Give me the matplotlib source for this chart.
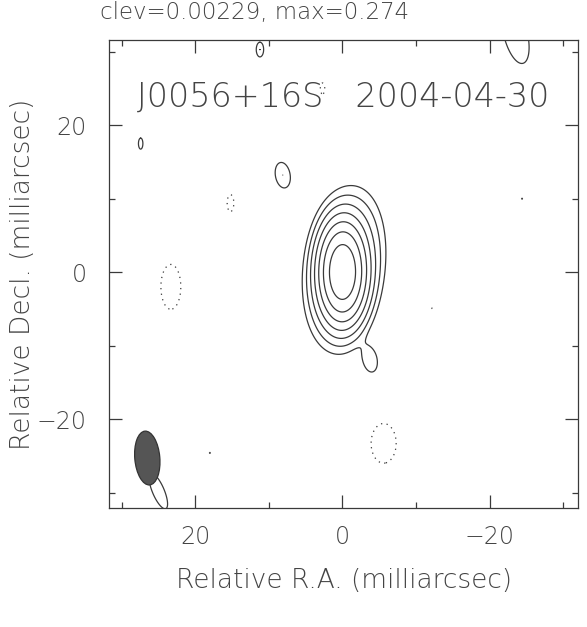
import numpy as np
import matplotlib
matplotlib.use("Agg")
import matplotlib.pyplot as plt
from matplotlib.patches import Ellipse

# ---- data ----
source = "J0056+16S"
epoch = "2004-04-30"
clev = 0.00229
vmax = 0.274
level_factors = [-1, 1, 2, 4, 8, 16, 32, 64]

# model components (mas, Jy/beam): RA offset, Dec offset, peak, FWHM major, FWHM minor, PA (deg)
comp_x = [0.0, -0.3, -3.8, 11.2, 27.4, 8.1, -24.4, 18.0, -23.5, 25.0, 2.7, 15.2, 23.3, -12.1, -5.6]
comp_y = [0.0, 0.5, -12.0, 30.3, 17.5, 13.2, 10.0, -24.6, 32.5, -29.8, 25.0, 9.4, -2.0, -4.9, -23.3]
comp_flux = [0.249, 0.025, 0.004, 0.00458, 0.00458, 0.00458, 0.0024, 0.0024, 0.00458, 0.00458,
             -0.00458, -0.00458, -0.00458, -0.0024, -0.00458]
comp_maj = [7.6, 12.0, 3.5, 2.0, 1.5, 3.5, 0.5, 0.5, 8.4, 5.2, 1.5, 2.3, 6.1, 0.6, 5.4]
comp_min = [3.6, 5.8, 2.0, 1.0, 0.6, 2.0, 0.4, 0.4, 3.2, 1.6, 0.6, 0.9, 2.7, 0.4, 3.4]
comp_pa = [0.0, -8.0, 10.0, 0.0, 0.0, 10.0, 0.0, 0.0, 14.0, 23.0, 0.0, 0.0, 0.0, 0.0, 0.0]

# restoring beam
beam_x, beam_y = 26.5, -25.3
beam_maj, beam_min, beam_pa = 7.35, 3.4, 5.0

xlim = (31.7, -32.0)
ylim = (-32.1, 31.6)

# ---- build map ----
g = np.arange(-33.0, 33.0, 0.05)
X, Y = np.meshgrid(g, g)
Z = np.zeros_like(X)
k = 4 * np.log(2)
for x0, y0, f, ma, mi, pa in zip(comp_x, comp_y, comp_flux, comp_maj, comp_min, comp_pa):
    t = np.deg2rad(pa)
    dx, dy = X - x0, Y - y0
    u = dx * np.cos(t) - dy * np.sin(t)
    v = dx * np.sin(t) + dy * np.cos(t)
    Z += f * np.exp(-k * ((u / mi) ** 2 + (v / ma) ** 2))

levels = [clev * f for f in level_factors]

# ---- plot ----
plt.rcParams['font.family'] = ['DejaVu Sans']
fig = plt.figure(figsize=(5.87, 6.27), dpi=100)
ax = fig.add_axes([0.1857, 0.1898, 0.799, 0.7464])

ink = '#3a3a3a'
txt = '#444444'
neg = [l for l in levels if l < 0]
pos = [l for l in levels if l > 0]
ax.contour(X, Y, Z, levels=neg, colors=ink, linewidths=0.9, linestyles=[(0, (1, 3.5))])
ax.contour(X, Y, Z, levels=pos, colors=ink, linewidths=0.9, linestyles='solid')

beam = Ellipse((beam_x, beam_y), width=beam_min, height=beam_maj, angle=-beam_pa,
               facecolor='#555555', edgecolor='#333333', linewidth=0.9, zorder=5)
ax.add_patch(beam)

ax.set_xlim(*xlim)
ax.set_ylim(*ylim)
ax.set_xticks([20, 0, -20])
ax.set_xticklabels(['20', '0', '\u221220'])
ax.set_yticks([20, 0, -20])
ax.set_yticklabels(['20', '0', '\u221220'])
ax.set_xticks([30, 10, -10, -30], minor=True)
ax.set_yticks([30, 10, -10, -30], minor=True)
ax.tick_params(which='both', direction='in', top=True, right=True, color=ink, width=0.9)
ax.tick_params(which='major', length=9.5, labelsize=17, labelcolor=txt)
ax.tick_params(axis='x', which='major', pad=12)
ax.tick_params(axis='y', which='major', pad=16)
ax.tick_params(which='minor', length=4.5)
for lab in ax.get_xticklabels() + ax.get_yticklabels():
    lab.set_fontweight('light')
for s in ax.spines.values():
    s.set_color(ink)
    s.set_linewidth(0.9)

ax.set_xlabel('Relative R.A. (milliarcsec)', fontsize=19, color=txt, labelpad=14,
              fontweight='light')
ax.set_ylabel('Relative Decl. (milliarcsec)', fontsize=19, color=txt, fontweight='light',
              va='center')
ax.yaxis.set_label_coords((22 - 109) / 469, 0.5)
fig.text(100 / 587, 1 - 13 / 627, f'clev={clev:.5f}, max={vmax:.3f}', ha='left', va='center',
         fontsize=16.5, color=txt, fontweight='light')
ax.text(0.5, 0.878, f'{source}   {epoch}', transform=ax.transAxes, ha='center', va='center',
        fontsize=24, color=txt, fontweight='light')

fig.savefig('out.png', dpi=100)
